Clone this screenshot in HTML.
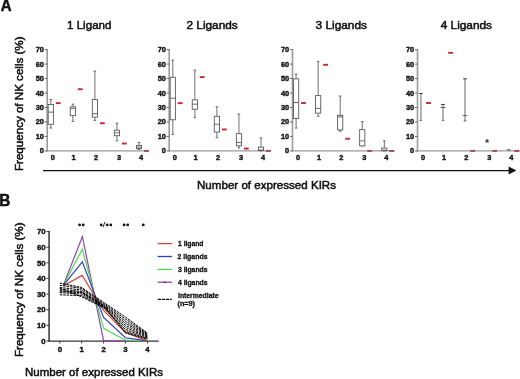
<!DOCTYPE html>
<html><head><meta charset="utf-8"><style>
html,body{margin:0;padding:0;background:#fff;}
svg{display:block;font-family:"Liberation Sans", sans-serif;will-change:transform;filter:blur(0.3px);}
.tka{font-size:7.4px;font-weight:bold;fill:#111;stroke:#111;stroke-width:0.4px}
.tkb{font-size:7.8px;font-weight:bold;fill:#111;stroke:#111;stroke-width:0.4px}
.st{font-size:8.4px;font-weight:bold;fill:#111;stroke:#111;stroke-width:0.35px}
</style></head><body>
<svg width="520" height="379" viewBox="0 0 520 379">
<rect width="520" height="379" fill="#fff"/>
<text x="67.0" y="28.6" font-size="11.0" font-weight="normal" textLength="44.5" lengthAdjust="spacingAndGlyphs" fill="#111" stroke="#111" stroke-width="0.5">1 Ligand</text>
<line x1="47.2" y1="49.01" x2="47.2" y2="151.6" stroke="#9a9a9a" stroke-width="1.6"/>
<line x1="46.5" y1="150.9" x2="149.0" y2="150.9" stroke="#9a9a9a" stroke-width="1.4"/>
<line x1="44.7" y1="150.90" x2="47.2" y2="150.90" stroke="#666" stroke-width="1"/>
<text x="43.900000000000006" y="153.40" class="tka" text-anchor="end">0</text>
<line x1="44.7" y1="136.43" x2="47.2" y2="136.43" stroke="#666" stroke-width="1"/>
<text x="43.900000000000006" y="138.93" class="tka" text-anchor="end">10</text>
<line x1="44.7" y1="121.96" x2="47.2" y2="121.96" stroke="#666" stroke-width="1"/>
<text x="43.900000000000006" y="124.46" class="tka" text-anchor="end">20</text>
<line x1="44.7" y1="107.49" x2="47.2" y2="107.49" stroke="#666" stroke-width="1"/>
<text x="43.900000000000006" y="109.99" class="tka" text-anchor="end">30</text>
<line x1="44.7" y1="93.02" x2="47.2" y2="93.02" stroke="#666" stroke-width="1"/>
<text x="43.900000000000006" y="95.52" class="tka" text-anchor="end">40</text>
<line x1="44.7" y1="78.55" x2="47.2" y2="78.55" stroke="#666" stroke-width="1"/>
<text x="43.900000000000006" y="81.05" class="tka" text-anchor="end">50</text>
<line x1="44.7" y1="64.08" x2="47.2" y2="64.08" stroke="#666" stroke-width="1"/>
<text x="43.900000000000006" y="66.58" class="tka" text-anchor="end">60</text>
<line x1="44.7" y1="49.61" x2="47.2" y2="49.61" stroke="#666" stroke-width="1"/>
<text x="43.900000000000006" y="52.11" class="tka" text-anchor="end">70</text>
<text x="52.75" y="160.1" class="tka" text-anchor="middle">0</text>
<text x="73.65" y="160.1" class="tka" text-anchor="middle">1</text>
<text x="96.10" y="160.1" class="tka" text-anchor="middle">2</text>
<text x="119.10" y="160.1" class="tka" text-anchor="middle">3</text>
<text x="141.10" y="160.1" class="tka" text-anchor="middle">4</text>
<line x1="50.80" y1="99.53" x2="50.80" y2="104.45" stroke="#606060" stroke-width="0.9"/>
<line x1="50.80" y1="124.28" x2="50.80" y2="128.04" stroke="#606060" stroke-width="0.9"/>
<line x1="49.50" y1="99.53" x2="52.10" y2="99.53" stroke="#5a5a5a" stroke-width="0.9"/>
<line x1="49.50" y1="128.04" x2="52.10" y2="128.04" stroke="#5a5a5a" stroke-width="0.9"/>
<rect x="48.20" y="104.45" width="5.2" height="19.82" fill="#fff" stroke="#5a5a5a" stroke-width="0.9"/>
<line x1="48.20" y1="112.12" x2="53.40" y2="112.12" stroke="#5a5a5a" stroke-width="0.9"/>
<line x1="72.85" y1="104.16" x2="72.85" y2="106.77" stroke="#606060" stroke-width="0.9"/>
<line x1="72.85" y1="115.59" x2="72.85" y2="121.38" stroke="#606060" stroke-width="0.9"/>
<line x1="71.55" y1="104.16" x2="74.15" y2="104.16" stroke="#5a5a5a" stroke-width="0.9"/>
<line x1="71.55" y1="121.38" x2="74.15" y2="121.38" stroke="#5a5a5a" stroke-width="0.9"/>
<rect x="70.25" y="106.77" width="5.2" height="8.83" fill="#fff" stroke="#5a5a5a" stroke-width="0.9"/>
<line x1="70.25" y1="108.36" x2="75.45" y2="108.36" stroke="#5a5a5a" stroke-width="0.9"/>
<line x1="94.90" y1="71.17" x2="94.90" y2="99.53" stroke="#606060" stroke-width="0.9"/>
<line x1="94.90" y1="117.18" x2="94.90" y2="120.37" stroke="#606060" stroke-width="0.9"/>
<line x1="93.60" y1="71.17" x2="96.20" y2="71.17" stroke="#5a5a5a" stroke-width="0.9"/>
<line x1="93.60" y1="120.37" x2="96.20" y2="120.37" stroke="#5a5a5a" stroke-width="0.9"/>
<rect x="92.30" y="99.53" width="5.2" height="17.65" fill="#fff" stroke="#5a5a5a" stroke-width="0.9"/>
<line x1="92.30" y1="113.71" x2="97.50" y2="113.71" stroke="#5a5a5a" stroke-width="0.9"/>
<line x1="116.95" y1="123.26" x2="116.95" y2="130.21" stroke="#606060" stroke-width="0.9"/>
<line x1="116.95" y1="135.71" x2="116.95" y2="140.92" stroke="#606060" stroke-width="0.9"/>
<line x1="115.65" y1="123.26" x2="118.25" y2="123.26" stroke="#5a5a5a" stroke-width="0.9"/>
<line x1="115.65" y1="140.92" x2="118.25" y2="140.92" stroke="#5a5a5a" stroke-width="0.9"/>
<rect x="114.35" y="130.21" width="5.2" height="5.50" fill="#fff" stroke="#5a5a5a" stroke-width="0.9"/>
<line x1="114.35" y1="132.81" x2="119.55" y2="132.81" stroke="#5a5a5a" stroke-width="0.9"/>
<line x1="139.00" y1="142.51" x2="139.00" y2="145.40" stroke="#606060" stroke-width="0.9"/>
<line x1="139.00" y1="148.58" x2="139.00" y2="149.45" stroke="#606060" stroke-width="0.9"/>
<line x1="137.70" y1="142.51" x2="140.30" y2="142.51" stroke="#5a5a5a" stroke-width="0.9"/>
<line x1="137.70" y1="149.45" x2="140.30" y2="149.45" stroke="#5a5a5a" stroke-width="0.9"/>
<rect x="136.40" y="145.40" width="5.2" height="3.18" fill="#fff" stroke="#5a5a5a" stroke-width="0.9"/>
<line x1="136.40" y1="147.14" x2="141.60" y2="147.14" stroke="#5a5a5a" stroke-width="0.9"/>
<line x1="55.80" y1="103.15" x2="60.60" y2="103.15" stroke="#c8242c" stroke-width="1.9"/>
<line x1="77.85" y1="89.26" x2="82.65" y2="89.26" stroke="#c8242c" stroke-width="1.9"/>
<line x1="99.90" y1="123.26" x2="104.70" y2="123.26" stroke="#c8242c" stroke-width="1.9"/>
<line x1="121.95" y1="143.52" x2="126.75" y2="143.52" stroke="#c8242c" stroke-width="1.9"/>
<line x1="144.00" y1="150.90" x2="148.80" y2="150.90" stroke="#a8444a" stroke-width="1.9"/>
<text x="186.5" y="28.6" font-size="11.0" font-weight="normal" textLength="51.25" lengthAdjust="spacingAndGlyphs" fill="#111" stroke="#111" stroke-width="0.5">2 Ligands</text>
<line x1="169.2" y1="49.01" x2="169.2" y2="151.6" stroke="#9a9a9a" stroke-width="1.6"/>
<line x1="168.5" y1="150.9" x2="271.0" y2="150.9" stroke="#9a9a9a" stroke-width="1.4"/>
<line x1="166.7" y1="150.90" x2="169.2" y2="150.90" stroke="#666" stroke-width="1"/>
<text x="165.89999999999998" y="153.40" class="tka" text-anchor="end">0</text>
<line x1="166.7" y1="136.43" x2="169.2" y2="136.43" stroke="#666" stroke-width="1"/>
<text x="165.89999999999998" y="138.93" class="tka" text-anchor="end">10</text>
<line x1="166.7" y1="121.96" x2="169.2" y2="121.96" stroke="#666" stroke-width="1"/>
<text x="165.89999999999998" y="124.46" class="tka" text-anchor="end">20</text>
<line x1="166.7" y1="107.49" x2="169.2" y2="107.49" stroke="#666" stroke-width="1"/>
<text x="165.89999999999998" y="109.99" class="tka" text-anchor="end">30</text>
<line x1="166.7" y1="93.02" x2="169.2" y2="93.02" stroke="#666" stroke-width="1"/>
<text x="165.89999999999998" y="95.52" class="tka" text-anchor="end">40</text>
<line x1="166.7" y1="78.55" x2="169.2" y2="78.55" stroke="#666" stroke-width="1"/>
<text x="165.89999999999998" y="81.05" class="tka" text-anchor="end">50</text>
<line x1="166.7" y1="64.08" x2="169.2" y2="64.08" stroke="#666" stroke-width="1"/>
<text x="165.89999999999998" y="66.58" class="tka" text-anchor="end">60</text>
<line x1="166.7" y1="49.61" x2="169.2" y2="49.61" stroke="#666" stroke-width="1"/>
<text x="165.89999999999998" y="52.11" class="tka" text-anchor="end">70</text>
<text x="174.75" y="160.1" class="tka" text-anchor="middle">0</text>
<text x="195.65" y="160.1" class="tka" text-anchor="middle">1</text>
<text x="218.10" y="160.1" class="tka" text-anchor="middle">2</text>
<text x="241.10" y="160.1" class="tka" text-anchor="middle">3</text>
<text x="263.10" y="160.1" class="tka" text-anchor="middle">4</text>
<line x1="172.80" y1="60.17" x2="172.80" y2="77.25" stroke="#606060" stroke-width="0.9"/>
<line x1="172.80" y1="119.79" x2="172.80" y2="134.40" stroke="#606060" stroke-width="0.9"/>
<line x1="171.50" y1="60.17" x2="174.10" y2="60.17" stroke="#5a5a5a" stroke-width="0.9"/>
<line x1="171.50" y1="134.40" x2="174.10" y2="134.40" stroke="#5a5a5a" stroke-width="0.9"/>
<rect x="170.20" y="77.25" width="5.2" height="42.54" fill="#fff" stroke="#5a5a5a" stroke-width="0.9"/>
<line x1="170.20" y1="98.23" x2="175.40" y2="98.23" stroke="#5a5a5a" stroke-width="0.9"/>
<line x1="194.85" y1="70.16" x2="194.85" y2="99.82" stroke="#606060" stroke-width="0.9"/>
<line x1="194.85" y1="109.23" x2="194.85" y2="117.76" stroke="#606060" stroke-width="0.9"/>
<line x1="193.55" y1="70.16" x2="196.15" y2="70.16" stroke="#5a5a5a" stroke-width="0.9"/>
<line x1="193.55" y1="117.76" x2="196.15" y2="117.76" stroke="#5a5a5a" stroke-width="0.9"/>
<rect x="192.25" y="99.82" width="5.2" height="9.41" fill="#fff" stroke="#5a5a5a" stroke-width="0.9"/>
<line x1="192.25" y1="104.16" x2="197.45" y2="104.16" stroke="#5a5a5a" stroke-width="0.9"/>
<line x1="216.90" y1="106.77" x2="216.90" y2="116.32" stroke="#606060" stroke-width="0.9"/>
<line x1="216.90" y1="132.09" x2="216.90" y2="137.88" stroke="#606060" stroke-width="0.9"/>
<line x1="215.60" y1="106.77" x2="218.20" y2="106.77" stroke="#5a5a5a" stroke-width="0.9"/>
<line x1="215.60" y1="137.88" x2="218.20" y2="137.88" stroke="#5a5a5a" stroke-width="0.9"/>
<rect x="214.30" y="116.32" width="5.2" height="15.77" fill="#fff" stroke="#5a5a5a" stroke-width="0.9"/>
<line x1="214.30" y1="124.28" x2="219.50" y2="124.28" stroke="#5a5a5a" stroke-width="0.9"/>
<line x1="238.95" y1="114.00" x2="238.95" y2="133.68" stroke="#606060" stroke-width="0.9"/>
<line x1="238.95" y1="145.84" x2="238.95" y2="148.01" stroke="#606060" stroke-width="0.9"/>
<line x1="237.65" y1="114.00" x2="240.25" y2="114.00" stroke="#5a5a5a" stroke-width="0.9"/>
<line x1="237.65" y1="148.01" x2="240.25" y2="148.01" stroke="#5a5a5a" stroke-width="0.9"/>
<rect x="236.35" y="133.68" width="5.2" height="12.15" fill="#fff" stroke="#5a5a5a" stroke-width="0.9"/>
<line x1="236.35" y1="142.51" x2="241.55" y2="142.51" stroke="#5a5a5a" stroke-width="0.9"/>
<line x1="261.00" y1="137.88" x2="261.00" y2="147.14" stroke="#606060" stroke-width="0.9"/>
<line x1="261.00" y1="150.47" x2="261.00" y2="150.90" stroke="#606060" stroke-width="0.9"/>
<line x1="259.70" y1="137.88" x2="262.30" y2="137.88" stroke="#5a5a5a" stroke-width="0.9"/>
<line x1="259.70" y1="150.90" x2="262.30" y2="150.90" stroke="#5a5a5a" stroke-width="0.9"/>
<rect x="258.40" y="147.14" width="5.2" height="3.33" fill="#fff" stroke="#5a5a5a" stroke-width="0.9"/>
<line x1="258.40" y1="150.03" x2="263.60" y2="150.03" stroke="#5a5a5a" stroke-width="0.9"/>
<line x1="177.80" y1="103.15" x2="182.60" y2="103.15" stroke="#c8242c" stroke-width="1.9"/>
<line x1="199.85" y1="77.10" x2="204.65" y2="77.10" stroke="#c8242c" stroke-width="1.9"/>
<line x1="221.90" y1="129.48" x2="226.70" y2="129.48" stroke="#c8242c" stroke-width="1.9"/>
<line x1="243.95" y1="148.58" x2="248.75" y2="148.58" stroke="#c8242c" stroke-width="1.9"/>
<line x1="266.00" y1="150.90" x2="270.80" y2="150.90" stroke="#a8444a" stroke-width="1.9"/>
<text x="315.5" y="28.6" font-size="11.0" font-weight="normal" textLength="51.5" lengthAdjust="spacingAndGlyphs" fill="#111" stroke="#111" stroke-width="0.5">3 Ligands</text>
<line x1="292.5" y1="49.01" x2="292.5" y2="151.6" stroke="#9a9a9a" stroke-width="1.6"/>
<line x1="291.8" y1="150.9" x2="394.8" y2="150.9" stroke="#9a9a9a" stroke-width="1.4"/>
<line x1="290.0" y1="150.90" x2="292.5" y2="150.90" stroke="#666" stroke-width="1"/>
<text x="289.2" y="153.40" class="tka" text-anchor="end">0</text>
<line x1="290.0" y1="136.43" x2="292.5" y2="136.43" stroke="#666" stroke-width="1"/>
<text x="289.2" y="138.93" class="tka" text-anchor="end">10</text>
<line x1="290.0" y1="121.96" x2="292.5" y2="121.96" stroke="#666" stroke-width="1"/>
<text x="289.2" y="124.46" class="tka" text-anchor="end">20</text>
<line x1="290.0" y1="107.49" x2="292.5" y2="107.49" stroke="#666" stroke-width="1"/>
<text x="289.2" y="109.99" class="tka" text-anchor="end">30</text>
<line x1="290.0" y1="93.02" x2="292.5" y2="93.02" stroke="#666" stroke-width="1"/>
<text x="289.2" y="95.52" class="tka" text-anchor="end">40</text>
<line x1="290.0" y1="78.55" x2="292.5" y2="78.55" stroke="#666" stroke-width="1"/>
<text x="289.2" y="81.05" class="tka" text-anchor="end">50</text>
<line x1="290.0" y1="64.08" x2="292.5" y2="64.08" stroke="#666" stroke-width="1"/>
<text x="289.2" y="66.58" class="tka" text-anchor="end">60</text>
<line x1="290.0" y1="49.61" x2="292.5" y2="49.61" stroke="#666" stroke-width="1"/>
<text x="289.2" y="52.11" class="tka" text-anchor="end">70</text>
<text x="298.05" y="160.1" class="tka" text-anchor="middle">0</text>
<text x="318.95" y="160.1" class="tka" text-anchor="middle">1</text>
<text x="341.40" y="160.1" class="tka" text-anchor="middle">2</text>
<text x="364.40" y="160.1" class="tka" text-anchor="middle">3</text>
<text x="386.40" y="160.1" class="tka" text-anchor="middle">4</text>
<line x1="296.10" y1="74.06" x2="296.10" y2="78.84" stroke="#606060" stroke-width="0.9"/>
<line x1="296.10" y1="118.49" x2="296.10" y2="128.04" stroke="#606060" stroke-width="0.9"/>
<line x1="294.80" y1="74.06" x2="297.40" y2="74.06" stroke="#5a5a5a" stroke-width="0.9"/>
<line x1="294.80" y1="128.04" x2="297.40" y2="128.04" stroke="#5a5a5a" stroke-width="0.9"/>
<rect x="293.50" y="78.84" width="5.2" height="39.65" fill="#fff" stroke="#5a5a5a" stroke-width="0.9"/>
<line x1="293.50" y1="102.57" x2="298.70" y2="102.57" stroke="#5a5a5a" stroke-width="0.9"/>
<line x1="318.15" y1="61.62" x2="318.15" y2="95.62" stroke="#606060" stroke-width="0.9"/>
<line x1="318.15" y1="113.13" x2="318.15" y2="116.32" stroke="#606060" stroke-width="0.9"/>
<line x1="316.85" y1="61.62" x2="319.45" y2="61.62" stroke="#5a5a5a" stroke-width="0.9"/>
<line x1="316.85" y1="116.32" x2="319.45" y2="116.32" stroke="#5a5a5a" stroke-width="0.9"/>
<rect x="315.55" y="95.62" width="5.2" height="17.51" fill="#fff" stroke="#5a5a5a" stroke-width="0.9"/>
<line x1="315.55" y1="108.36" x2="320.75" y2="108.36" stroke="#5a5a5a" stroke-width="0.9"/>
<line x1="340.20" y1="96.06" x2="340.20" y2="115.30" stroke="#606060" stroke-width="0.9"/>
<line x1="340.20" y1="129.92" x2="340.20" y2="131.22" stroke="#606060" stroke-width="0.9"/>
<line x1="338.90" y1="96.06" x2="341.50" y2="96.06" stroke="#5a5a5a" stroke-width="0.9"/>
<line x1="338.90" y1="131.22" x2="341.50" y2="131.22" stroke="#5a5a5a" stroke-width="0.9"/>
<rect x="337.60" y="115.30" width="5.2" height="14.61" fill="#fff" stroke="#5a5a5a" stroke-width="0.9"/>
<line x1="337.60" y1="116.90" x2="342.80" y2="116.90" stroke="#5a5a5a" stroke-width="0.9"/>
<line x1="362.25" y1="121.67" x2="362.25" y2="129.63" stroke="#606060" stroke-width="0.9"/>
<line x1="362.25" y1="145.84" x2="362.25" y2="145.84" stroke="#606060" stroke-width="0.9"/>
<line x1="360.95" y1="121.67" x2="363.55" y2="121.67" stroke="#5a5a5a" stroke-width="0.9"/>
<line x1="360.95" y1="145.84" x2="363.55" y2="145.84" stroke="#5a5a5a" stroke-width="0.9"/>
<rect x="359.65" y="129.63" width="5.2" height="16.21" fill="#fff" stroke="#5a5a5a" stroke-width="0.9"/>
<line x1="359.65" y1="140.92" x2="364.85" y2="140.92" stroke="#5a5a5a" stroke-width="0.9"/>
<line x1="384.30" y1="140.92" x2="384.30" y2="148.01" stroke="#606060" stroke-width="0.9"/>
<line x1="384.30" y1="150.61" x2="384.30" y2="150.90" stroke="#606060" stroke-width="0.9"/>
<line x1="383.00" y1="140.92" x2="385.60" y2="140.92" stroke="#5a5a5a" stroke-width="0.9"/>
<line x1="383.00" y1="150.90" x2="385.60" y2="150.90" stroke="#5a5a5a" stroke-width="0.9"/>
<rect x="381.70" y="148.01" width="5.2" height="2.60" fill="#fff" stroke="#5a5a5a" stroke-width="0.9"/>
<line x1="381.70" y1="150.18" x2="386.90" y2="150.18" stroke="#5a5a5a" stroke-width="0.9"/>
<line x1="301.10" y1="103.00" x2="305.90" y2="103.00" stroke="#c8242c" stroke-width="1.9"/>
<line x1="323.15" y1="64.80" x2="327.95" y2="64.80" stroke="#c8242c" stroke-width="1.9"/>
<line x1="345.20" y1="138.75" x2="350.00" y2="138.75" stroke="#c8242c" stroke-width="1.9"/>
<line x1="367.25" y1="150.90" x2="372.05" y2="150.90" stroke="#a8444a" stroke-width="1.9"/>
<line x1="389.30" y1="150.90" x2="394.10" y2="150.90" stroke="#a8444a" stroke-width="1.9"/>
<text x="440.75" y="28.6" font-size="11.0" font-weight="normal" textLength="51.25" lengthAdjust="spacingAndGlyphs" fill="#111" stroke="#111" stroke-width="0.5">4 Ligands</text>
<line x1="417.5" y1="49.01" x2="417.5" y2="151.6" stroke="#9a9a9a" stroke-width="1.6"/>
<line x1="416.8" y1="150.9" x2="520" y2="150.9" stroke="#9a9a9a" stroke-width="1.4"/>
<line x1="415.0" y1="150.90" x2="417.5" y2="150.90" stroke="#666" stroke-width="1"/>
<text x="414.2" y="153.40" class="tka" text-anchor="end">0</text>
<line x1="415.0" y1="136.43" x2="417.5" y2="136.43" stroke="#666" stroke-width="1"/>
<text x="414.2" y="138.93" class="tka" text-anchor="end">10</text>
<line x1="415.0" y1="121.96" x2="417.5" y2="121.96" stroke="#666" stroke-width="1"/>
<text x="414.2" y="124.46" class="tka" text-anchor="end">20</text>
<line x1="415.0" y1="107.49" x2="417.5" y2="107.49" stroke="#666" stroke-width="1"/>
<text x="414.2" y="109.99" class="tka" text-anchor="end">30</text>
<line x1="415.0" y1="93.02" x2="417.5" y2="93.02" stroke="#666" stroke-width="1"/>
<text x="414.2" y="95.52" class="tka" text-anchor="end">40</text>
<line x1="415.0" y1="78.55" x2="417.5" y2="78.55" stroke="#666" stroke-width="1"/>
<text x="414.2" y="81.05" class="tka" text-anchor="end">50</text>
<line x1="415.0" y1="64.08" x2="417.5" y2="64.08" stroke="#666" stroke-width="1"/>
<text x="414.2" y="66.58" class="tka" text-anchor="end">60</text>
<line x1="415.0" y1="49.61" x2="417.5" y2="49.61" stroke="#666" stroke-width="1"/>
<text x="414.2" y="52.11" class="tka" text-anchor="end">70</text>
<text x="423.05" y="160.1" class="tka" text-anchor="middle">0</text>
<text x="443.95" y="160.1" class="tka" text-anchor="middle">1</text>
<text x="466.40" y="160.1" class="tka" text-anchor="middle">2</text>
<text x="489.40" y="160.1" class="tka" text-anchor="middle">3</text>
<text x="511.40" y="160.1" class="tka" text-anchor="middle">4</text>
<line x1="420.90" y1="93.45" x2="420.90" y2="120.37" stroke="#aaa" stroke-width="1.8"/>
<line x1="419.10" y1="93.45" x2="422.70" y2="93.45" stroke="#333" stroke-width="1"/>
<line x1="419.60" y1="120.37" x2="422.20" y2="120.37" stroke="#555" stroke-width="0.9"/>
<line x1="442.95" y1="104.45" x2="442.95" y2="120.37" stroke="#aaa" stroke-width="1.8"/>
<line x1="441.15" y1="104.45" x2="444.75" y2="104.45" stroke="#333" stroke-width="1"/>
<line x1="441.65" y1="120.37" x2="444.25" y2="120.37" stroke="#555" stroke-width="0.9"/>
<line x1="440.45" y1="107.49" x2="445.45" y2="107.49" stroke="#555" stroke-width="0.9"/>
<line x1="465.00" y1="78.84" x2="465.00" y2="120.95" stroke="#aaa" stroke-width="1.8"/>
<line x1="463.20" y1="78.84" x2="466.80" y2="78.84" stroke="#333" stroke-width="1"/>
<line x1="463.70" y1="120.95" x2="466.30" y2="120.95" stroke="#555" stroke-width="0.9"/>
<line x1="462.50" y1="115.59" x2="467.50" y2="115.59" stroke="#555" stroke-width="0.9"/>
<path d="M485.3,142.2 L486.3,139.5 L488.1,139.5 L488.7,142.2 Z" fill="#444" stroke="#666" stroke-width="0.4"/>
<line x1="506.90" y1="149.89" x2="510.50" y2="149.89" stroke="#333" stroke-width="1"/>
<line x1="426.10" y1="103.00" x2="430.90" y2="103.00" stroke="#c8242c" stroke-width="1.9"/>
<line x1="448.15" y1="52.79" x2="452.95" y2="52.79" stroke="#c8242c" stroke-width="1.9"/>
<line x1="470.20" y1="150.90" x2="475.00" y2="150.90" stroke="#a8444a" stroke-width="1.9"/>
<line x1="492.25" y1="150.90" x2="497.05" y2="150.90" stroke="#a8444a" stroke-width="1.9"/>
<line x1="514.30" y1="150.90" x2="519.10" y2="150.90" stroke="#a8444a" stroke-width="1.9"/>
<text transform="translate(22.8,171.0) rotate(-90)" font-size="11.1" font-weight="normal" textLength="134.5" lengthAdjust="spacingAndGlyphs" fill="#111" stroke="#111" stroke-width="0.5">Frequency of NK cells (%)</text>
<text x="0.7" y="11.1" font-size="16.2" font-weight="bold" textLength="10.8" lengthAdjust="spacingAndGlyphs" fill="#111" stroke="#111" stroke-width="0.5">A</text>
<line x1="43.0" y1="170.6" x2="510" y2="170.6" stroke="#111" stroke-width="1.4"/>
<path d="M508.6,166.6 L516.4,170.6 L508.6,174.5 Z" fill="#111"/>
<text x="197.0" y="188.8" font-size="11.3" font-weight="normal" textLength="139.0" lengthAdjust="spacingAndGlyphs" fill="#111" stroke="#111" stroke-width="0.5">Number of expressed KIRs</text>
<text x="-0.8" y="205.6" font-size="16.2" font-weight="bold" textLength="11.1" lengthAdjust="spacingAndGlyphs" fill="#111" stroke="#111" stroke-width="0.5">B</text>
<line x1="49.1" y1="230.95999999999998" x2="49.1" y2="341.59999999999997" stroke="#555" stroke-width="1.8"/>
<line x1="48.4" y1="341.2" x2="158.8" y2="341.2" stroke="#333" stroke-width="1.3"/>
<line x1="46.5" y1="340.90" x2="49.1" y2="340.90" stroke="#333" stroke-width="1"/>
<text x="45.6" y="343.60" class="tkb" text-anchor="end">0</text>
<line x1="46.5" y1="325.28" x2="49.1" y2="325.28" stroke="#333" stroke-width="1"/>
<text x="45.6" y="327.98" class="tkb" text-anchor="end">10</text>
<line x1="46.5" y1="309.66" x2="49.1" y2="309.66" stroke="#333" stroke-width="1"/>
<text x="45.6" y="312.36" class="tkb" text-anchor="end">20</text>
<line x1="46.5" y1="294.04" x2="49.1" y2="294.04" stroke="#333" stroke-width="1"/>
<text x="45.6" y="296.74" class="tkb" text-anchor="end">30</text>
<line x1="46.5" y1="278.42" x2="49.1" y2="278.42" stroke="#333" stroke-width="1"/>
<text x="45.6" y="281.12" class="tkb" text-anchor="end">40</text>
<line x1="46.5" y1="262.80" x2="49.1" y2="262.80" stroke="#333" stroke-width="1"/>
<text x="45.6" y="265.50" class="tkb" text-anchor="end">50</text>
<line x1="46.5" y1="247.18" x2="49.1" y2="247.18" stroke="#333" stroke-width="1"/>
<text x="45.6" y="249.88" class="tkb" text-anchor="end">60</text>
<line x1="46.5" y1="231.56" x2="49.1" y2="231.56" stroke="#333" stroke-width="1"/>
<text x="45.6" y="234.26" class="tkb" text-anchor="end">70</text>
<line x1="59.8" y1="340.9" x2="59.8" y2="343.5" stroke="#333" stroke-width="1"/>
<text x="59.8" y="352.0" class="tkb" text-anchor="middle">0</text>
<line x1="81.7" y1="340.9" x2="81.7" y2="343.5" stroke="#333" stroke-width="1"/>
<text x="81.7" y="352.0" class="tkb" text-anchor="middle">1</text>
<line x1="103.6" y1="340.9" x2="103.6" y2="343.5" stroke="#333" stroke-width="1"/>
<text x="103.6" y="352.0" class="tkb" text-anchor="middle">2</text>
<line x1="125.4" y1="340.9" x2="125.4" y2="343.5" stroke="#333" stroke-width="1"/>
<text x="125.4" y="352.0" class="tkb" text-anchor="middle">3</text>
<line x1="147.5" y1="340.9" x2="147.5" y2="343.5" stroke="#333" stroke-width="1"/>
<text x="147.5" y="352.0" class="tkb" text-anchor="middle">4</text>
<polyline points="63.4,285.3 82.4,236.5 103.6,340.9 125.4,340.9 147.5,340.9" fill="none" stroke="#9044a8" stroke-width="1.2" stroke-linejoin="miter"/>
<polyline points="63.4,285.3 82.3,249.2 103.6,328.3 125.4,340.2 147.5,340.9" fill="none" stroke="#52d852" stroke-width="1.2" stroke-linejoin="miter"/>
<polyline points="63.4,285.3 82.3,261.9 103.6,317.5 125.4,337.8 147.5,340.9" fill="none" stroke="#2a40bc" stroke-width="1.2" stroke-linejoin="miter"/>
<polyline points="63.4,285.8 82.2,275.4 103.6,310.5 125.4,332.4 147.5,340.9" fill="none" stroke="#cc4536" stroke-width="1.2" stroke-linejoin="miter"/>
<polyline points="59.80,283.11 81.70,287.48 103.60,302.32 125.40,317.00 147.50,333.09" fill="none" stroke="#000" stroke-width="1.0" stroke-dasharray="2.6,0.8"/>
<polyline points="59.80,285.29 81.70,288.42 103.60,303.41 125.40,319.03 147.50,333.87" fill="none" stroke="#000" stroke-width="1.0" stroke-dasharray="2.6,0.8"/>
<polyline points="59.80,287.48 81.70,289.98 103.60,304.35 125.40,321.22 147.50,334.65" fill="none" stroke="#000" stroke-width="1.0" stroke-dasharray="2.6,0.8"/>
<polyline points="59.80,289.04 81.70,291.54 103.60,305.13 125.40,323.25 147.50,335.43" fill="none" stroke="#000" stroke-width="1.0" stroke-dasharray="2.6,0.8"/>
<polyline points="59.80,290.60 81.70,292.79 103.60,305.91 125.40,325.28 147.50,336.21" fill="none" stroke="#000" stroke-width="1.0" stroke-dasharray="2.6,0.8"/>
<polyline points="59.80,292.63 81.70,294.04 103.60,306.54 125.40,327.31 147.50,337.00" fill="none" stroke="#000" stroke-width="1.0" stroke-dasharray="2.6,0.8"/>
<polyline points="59.80,294.82 81.70,295.60 103.60,307.16 125.40,329.34 147.50,337.78" fill="none" stroke="#000" stroke-width="1.0" stroke-dasharray="2.6,0.8"/>
<polyline points="59.80,288.26 81.70,296.85 103.60,307.79 125.40,331.22 147.50,338.56" fill="none" stroke="#000" stroke-width="1.0" stroke-dasharray="2.6,0.8"/>
<polyline points="59.80,291.70 81.70,292.17 103.60,305.60 125.40,332.78 147.50,339.34" fill="none" stroke="#000" stroke-width="1.0" stroke-dasharray="2.6,0.8"/>
<circle cx="79.6" cy="224.9" r="1.4" fill="#111"/>
<circle cx="83.2" cy="224.9" r="1.4" fill="#111"/>
<circle cx="101.2" cy="224.9" r="1.4" fill="#111"/>
<circle cx="107.2" cy="224.9" r="1.4" fill="#111"/>
<circle cx="110.8" cy="224.9" r="1.4" fill="#111"/>
<circle cx="124.1" cy="224.9" r="1.4" fill="#111"/>
<circle cx="127.7" cy="224.9" r="1.4" fill="#111"/>
<circle cx="143.3" cy="224.9" r="1.4" fill="#111"/>
<line x1="103.0" y1="227.3" x2="105.0" y2="221.9" stroke="#111" stroke-width="0.9"/>
<line x1="157.6" y1="243.6" x2="172.0" y2="243.6" stroke="#cc4536" stroke-width="1.3"/>
<text x="178.0" y="246.4" font-size="7.2" font-weight="bold" textLength="25.5" lengthAdjust="spacingAndGlyphs" fill="#111" stroke="#111" stroke-width="0.3">1 ligand</text>
<line x1="157.6" y1="256.5" x2="172.0" y2="256.5" stroke="#2a40bc" stroke-width="1.3"/>
<text x="177.5" y="259.1" font-size="7.2" font-weight="bold" textLength="30.0" lengthAdjust="spacingAndGlyphs" fill="#111" stroke="#111" stroke-width="0.3">2 ligands</text>
<line x1="157.6" y1="269.4" x2="172.0" y2="269.4" stroke="#52d852" stroke-width="1.3"/>
<text x="178.0" y="271.8" font-size="7.2" font-weight="bold" textLength="29.5" lengthAdjust="spacingAndGlyphs" fill="#111" stroke="#111" stroke-width="0.3">3 ligands</text>
<line x1="157.6" y1="282.2" x2="172.0" y2="282.2" stroke="#9044a8" stroke-width="1.3"/>
<circle cx="164.8" cy="282.2" r="1.0" fill="#6a2a80"/>
<text x="178.0" y="284.5" font-size="7.2" font-weight="bold" textLength="29.5" lengthAdjust="spacingAndGlyphs" fill="#111" stroke="#111" stroke-width="0.3">4 ligands</text>
<line x1="157.8" y1="299.4" x2="171.8" y2="299.4" stroke="#111" stroke-width="1.3" stroke-dasharray="3.2,0.8"/>
<text x="178.0" y="297.7" font-size="7.0" font-weight="bold" textLength="40.5" lengthAdjust="spacingAndGlyphs" fill="#111" stroke="#111" stroke-width="0.3">Intermediate</text>
<text x="177.5" y="305.8" font-size="7.0" font-weight="bold" textLength="17.5" lengthAdjust="spacingAndGlyphs" fill="#111" stroke="#111" stroke-width="0.3">(n=9)</text>
<text transform="translate(22.8,357.0) rotate(-90)" font-size="11.1" font-weight="normal" textLength="134.5" lengthAdjust="spacingAndGlyphs" fill="#111" stroke="#111" stroke-width="0.5">Frequency of NK cells (%)</text>
<text x="25.0" y="376.3" font-size="11.3" font-weight="normal" textLength="138.0" lengthAdjust="spacingAndGlyphs" fill="#111" stroke="#111" stroke-width="0.5">Number of expressed KIRs</text>
</svg>
</body></html>
